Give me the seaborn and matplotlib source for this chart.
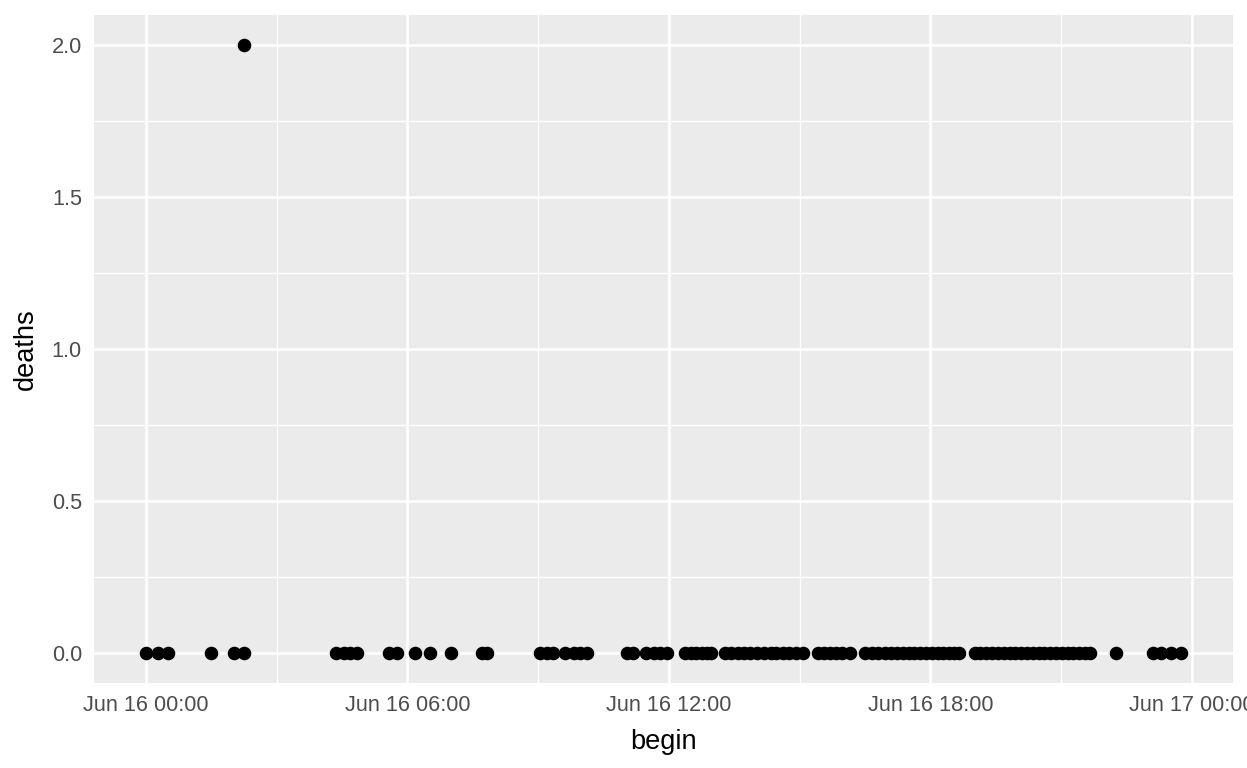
import pandas as pd
import seaborn as sns
import matplotlib.pyplot as plt
import matplotlib.dates as mdates
from matplotlib.ticker import MultipleLocator, FormatStrFormatter

# event start times on Jun 16 (HH:MM) and the deaths for each event
begin = [
    "00:00", "00:17", "00:31", "01:30", "02:01", "02:15", "02:15",
    "04:22", "04:32", "04:41", "04:50", "05:35", "05:46",
    "06:11", "06:31", "07:00", "07:42", "07:50",
    "09:02", "09:12", "09:21", "09:37", "09:49", "09:58", "10:07",
    "11:02", "11:11", "11:28", "11:39", "11:48", "11:57",
    "12:22", "12:30", "12:38", "12:46", "12:52", "12:58",
    "13:17", "13:26", "13:35", "13:44", "13:52", "14:02", "14:11",
    "14:20", "14:28", "14:37", "14:46", "14:55", "15:04",
    "15:26", "15:34", "15:42", "15:50", "15:58", "16:09",
    "16:30", "16:39", "16:48", "16:57", "17:06", "17:14", "17:22",
    "17:30", "17:38", "17:46", "17:54", "18:02", "18:10", "18:18",
    "18:26", "18:33", "18:40",
    "19:01", "19:09", "19:17", "19:25", "19:33", "19:41", "19:49",
    "19:57", "20:05", "20:13", "20:21", "20:29", "20:37", "20:45",
    "20:53", "21:01", "21:09", "21:17", "21:25", "21:33", "21:40",
    "22:16", "23:06", "23:17", "23:31", "23:45",
]
deaths = [0] * len(begin)
deaths[5] = 2

df = pd.DataFrame({
    "begin": pd.to_datetime(["2011-06-16 " + t for t in begin]),
    "deaths": deaths,
})

sns.set_theme(style="darkgrid", rc={
    "axes.facecolor": "#EBEBEB",
    "grid.color": "white",
    "grid.linewidth": 1.07,
})
plt.rcParams["font.family"] = ["Liberation Sans", "DejaVu Sans"]

fig, ax = plt.subplots(figsize=(7, 4.3077), dpi=178.2857)
fig.subplots_adjust(left=0.0755, right=0.9877, top=0.981, bottom=0.1107)

sns.scatterplot(data=df, x="begin", y="deaths", color="black", s=30,
                linewidth=0, ax=ax)
ax.margins(0.05)

# x axis: dates every 6 hours, minor grid at midpoints
ax.xaxis.set_major_locator(mdates.HourLocator(byhour=[0, 6, 12, 18]))
ax.xaxis.set_minor_locator(mdates.HourLocator(byhour=[3, 9, 15, 21]))
ax.xaxis.set_major_formatter(mdates.DateFormatter("%b %d %H:%M"))
ax.yaxis.set_major_locator(MultipleLocator(0.5))
ax.yaxis.set_minor_locator(MultipleLocator(0.25))
ax.yaxis.set_major_formatter(FormatStrFormatter("%.1f"))

ax.grid(which="major", color="white", linewidth=1.07)
ax.grid(which="minor", color="white", linewidth=0.53)
for s in ax.spines.values():
    s.set_visible(False)

ax.tick_params(which="major", length=2.75, width=1.07, color="#333333",
               labelcolor="#4D4D4D", labelsize=8.8, pad=2.2)
ax.tick_params(which="minor", length=0)
ax.set_xlabel("begin", fontsize=11, color="black", labelpad=5)
ax.set_ylabel("deaths", fontsize=11, color="black", labelpad=5)

fig.savefig("out.png", dpi=178.2857)
